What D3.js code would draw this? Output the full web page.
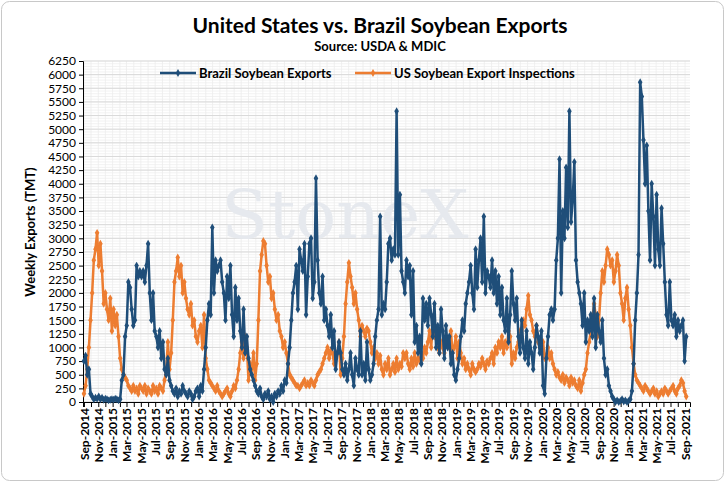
<!DOCTYPE html>
<html><head><meta charset="utf-8">
<script src="https://cdn.jsdelivr.net/npm/d3@7"></script>
<style>body{margin:0;background:#fff;font-family:Lato,"Open Sans",sans-serif}</style>
</head><body><svg id="c" width="725" height="482"></svg>
<script>
// weekly values (TMT), starting week of 2014-09-01
const brazilSeasons = [
  [750,850,500,600, 150,100,50,80,60, 100,50,80,40, 60,50,30,40, 50,40,60,50,30, 50,400,500,1200, 1400,2200,2100,1700, 1400,1500,2500,2300,2400, 2300,2400,2200,2500, 2900,2000,1500,2000, 1300,1200,1000,1300,800, 1100,600,500,800],
  [400,300,200,150, 250,100,200,150,300, 200,150,100,200, 150,50,100,200, 250,100,300,200,600, 1000,1500,1800,1600, 3200,2000,2600,2400, 2500,2600,2200,2000,1500, 2300,1900,2500,1600, 1200,2100,1500,1900, 1300,1000,1700,900,1200, 800,600,500,400],
  [300,200,150,250, 100,50,150,100,200, 50,100,0,150, 100,200,150,300, 200,400,350,700,1000, 1500,2000,2200,2500, 1700,2800,2600,2400, 2900,1600,2300,2900,3000, 1900,2200,4100,2600, 2000,1800,2300,1500, 1700,1400,1200,1600,1000, 1300,600,900,1100],
  [900,600,500,700, 400,600,900,500,300, 800,600,500,1300, 500,700,400,1100, 600,400,500,700,1200, 1500,1700,3400,1600, 1800,1700,2200,2900, 3000,2600,2800,2700,5330, 2700,3800,2400,2200, 2000,2600,2300,2500, 1600,2400,1100,1400,900, 1200,700,1900,1500],
  [1800,1400,1900,1600, 1200,1800,1000,1400,900, 1700,1300,800,1400, 1000,1200,700,900, 500,400,600,800,1200, 1500,1300,1800,2000, 2200,2500,2000,1700, 2800,2100,2600,3000,2200, 3400,2000,2400,2300, 2100,2600,2000,2400, 1800,2300,1600,2100,1500, 1300,1900,1100,1600],
  [2400,1800,1500,1900, 1200,900,1500,1000,800, 1300,700,1100,900, 600,1000,1400,1200, 900,1300,300,150,800, 1200,1600,1700,1500, 1700,2600,3000,4450, 2000,3500,3000,4300,3200, 5330,3300,3700,4400, 2600,2200,2000,1800, 1400,2000,1100,1500,1300, 1600,1200,1900,1000],
  [1600,1300,1100,1500, 800,500,600,300,200, 100,50,0,30, 0,20,50,10, 30,0,20,50,200, 700,1500,2000,2700, 5860,5600,4800,4000, 4700,3500,2600,4000,3400, 2500,3800,2800,2500, 3550,2900,2200,1600, 1400,2200,1500,1400,1600, 1200,1500,1300,1400, 1500,750,1200]
];
const usSeasons = [
  [150,300,600,1000, 1500,2000,2600,2800,3100, 2500,2900,2400,1800, 2000,1700,1500,1900, 1300,1700,1400,1600,1200, 800,600,500,450, 400,300,250,200, 300,200,250,150,300, 250,200,300,150, 250,200,150,300, 200,250,150,300,250, 200,400,600,1100],
  [600,900,1500,2200, 2400,2650,2300,2500,2000, 2200,1900,1700,1600, 1800,1400,1500,1200, 1100,1300,1400,1000,1600, 800,600,400,350, 300,250,200,300, 200,150,100,150,200, 250,150,100,200, 300,250,400,600, 900,1100,800,1200,1000, 400,700,600,900],
  [400,700,1500,2400, 2700,2950,2900,2500,2200, 2300,1900,2000,1700, 1500,1600,1300,1200, 1000,1100,900,700,500, 450,400,350,300, 300,250,300,350, 400,300,350,300,400, 350,300,400,500, 550,600,700,800, 900,1000,800,950,900, 700,800,900,1100],
  [500,800,1200,1800, 2200,2550,2300,2100,1800, 2000,1700,1500,1200, 1400,1300,1200,1350, 1300,1100,900,1000,800, 900,700,850,600, 500,700,600,800, 500,600,700,550,800, 600,700,650,900, 800,900,700,600, 800,650,900,700,800, 750,900,800,1000],
  [900,1100,1300,1000, 1400,1200,1300,1000,900, 1100,1000,900,1200, 1100,1000,1300,900, 1000,1200,800,1100,900, 700,800,600,700, 600,500,700,600, 550,600,700,650,800, 700,600,750,700, 800,900,700,1000, 900,1100,1000,1200,900, 1100,1000,1300,1200],
  [700,900,800,1000, 1100,1300,1200,1500,1400, 1700,1950,1600,1500, 1300,1200,1400,1100, 1000,900,1100,800,850, 1000,800,900,700, 600,500,550,450, 400,500,350,450,400, 300,450,350,400, 300,250,400,200, 350,500,600,900,1100, 1300,1500,1800,1600],
  [1200,1500,2000,2400, 2200,2500,2800,2700,2500, 2600,2200,2400,2700, 2500,2000,1800,1500, 1900,2100,1700,1400,1000, 700,500,400,350, 300,250,200,300, 250,200,150,200,250, 150,200,100,150, 200,150,250,200, 150,200,250,300,200, 150,250,300,400, 350,200,100]
];
const brazil = brazilSeasons.flat();
const us = usSeasons.flat();
const start = new Date(2014, 8, 1);
const weekDate = i => d3.timeDay.offset(start, i * 7);
const yTicks = d3.range(0, 6251, 250);

const svg = d3.select("#c");
const m = {l: 83, r: 690, t: 61, b: 402};

svg.append("rect").attr("x", 1.5).attr("y", 1.5).attr("width", 722).attr("height", 479)
  .attr("rx", 8).attr("fill", "#fff").attr("stroke", "#c8c8c8");

const x = d3.scaleTime().domain([new Date(2014, 7, 28), new Date(2021, 8, 22)]).range([m.l, m.r]);
const y = d3.scaleLinear().domain([0, 6250]).range([m.b, m.t]);

// grid
const g = svg.append("g");
g.selectAll(".mi").data(d3.range(0, 6251, 50)).join("line")
  .attr("x1", m.l).attr("x2", m.r).attr("y1", d => y(d)).attr("y2", d => y(d))
  .attr("stroke", "#efefef").attr("stroke-width", 0.8);
g.selectAll(".vx").data(d3.timeMonth.range(new Date(2014, 8, 1), new Date(2021, 9, 1))).join("line")
  .attr("x1", d => x(d)).attr("x2", d => x(d)).attr("y1", m.t).attr("y2", m.b)
  .attr("stroke", "#ececec").attr("stroke-width", 0.8);
g.selectAll(".ma").data(yTicks).join("line")
  .attr("x1", m.l).attr("x2", m.r).attr("y1", d => y(d)).attr("y2", d => y(d))
  .attr("stroke", "#d9d9d9");

// watermark
svg.append("text").attr("x", 345).attr("y", 238).attr("text-anchor", "middle")
  .attr("font-family", "DejaVu Serif, serif").attr("font-size", 68)
  .attr("fill", "#e6e9ee").text("StoneX");

// axes
svg.append("g").attr("transform", `translate(${m.l},0)`)
  .call(d3.axisLeft(y).tickValues(yTicks).tickSize(4).tickFormat(d3.format("d")))
  .call(a => a.select(".domain").attr("stroke", "#000"))
  .selectAll("text").attr("font-size", 12).attr("fill", "#000").attr("font-family", "Lato");

const xa = svg.append("g").attr("transform", `translate(0,${m.b})`)
  .call(d3.axisBottom(x).ticks(d3.timeMonth.every(1)).tickSize(5).tickFormat(""));
xa.select(".domain").attr("stroke", "#000");
svg.append("g").attr("transform", `translate(0,${m.b})`)
  .call(d3.axisBottom(x).tickValues(d3.timeMonth.every(2).range(new Date(2014, 8, 1), new Date(2021, 9, 1))
      .filter(d => d.getMonth() % 2 === 0))
    .tickSize(0).tickFormat(d3.timeFormat("%b-%Y")))
  .call(a => a.select(".domain").remove())
  .selectAll("text").attr("font-size", 12).attr("font-weight", "bold").attr("font-family", "Lato")
  .attr("transform", "rotate(-90)").attr("text-anchor", "end").attr("dx", "-6").attr("dy", "0.35em")
  .attr("y", 0).attr("x", 0);

// series
const diamond = d3.symbol().type(d3.symbolDiamond).size(18);
function drawSeries(vals, color) {
  const pts = vals.map((v, i) => [weekDate(i), v]);
  svg.append("path").datum(pts).attr("fill", "none").attr("stroke", color).attr("stroke-width", 2.5)
    .attr("stroke-linejoin", "round")
    .attr("d", d3.line().x(d => x(d[0])).y(d => y(d[1])));
  svg.append("g").selectAll("path").data(pts).join("path")
    .attr("transform", d => `translate(${x(d[0])},${y(d[1])})`).attr("d", diamond).attr("fill", color);
}
drawSeries(us, "#ed7d31");
drawSeries(brazil, "#1f4e79");

// titles
svg.append("text").attr("x", 380).attr("y", 33).attr("text-anchor", "middle")
  .attr("font-size", 21).attr("font-weight", "bold").text("United States vs. Brazil Soybean Exports");
svg.append("text").attr("x", 380).attr("y", 51).attr("text-anchor", "middle")
  .attr("font-size", 13).attr("font-weight", "bold").text("Source: USDA & MDIC");
svg.append("text").attr("transform", "translate(35,232) rotate(-90)").attr("text-anchor", "middle")
  .attr("font-size", 13).attr("font-weight", "bold").text("Weekly Exports (TMT)");

// legend
const legend = [["Brazil Soybean Exports", "#1f4e79", 160], ["US Soybean Export Inspections", "#ed7d31", 355]];
legend.forEach(([t, c, lx]) => {
  svg.append("line").attr("x1", lx).attr("x2", lx + 36).attr("y1", 73).attr("y2", 73)
    .attr("stroke", c).attr("stroke-width", 2.5);
  svg.append("path").attr("transform", `translate(${lx + 18},73)`).attr("d", diamond).attr("fill", c);
  svg.append("text").attr("x", lx + 39).attr("y", 77.5).attr("font-size", 13).attr("font-weight", "bold").text(t);
});
</script></body></html>
